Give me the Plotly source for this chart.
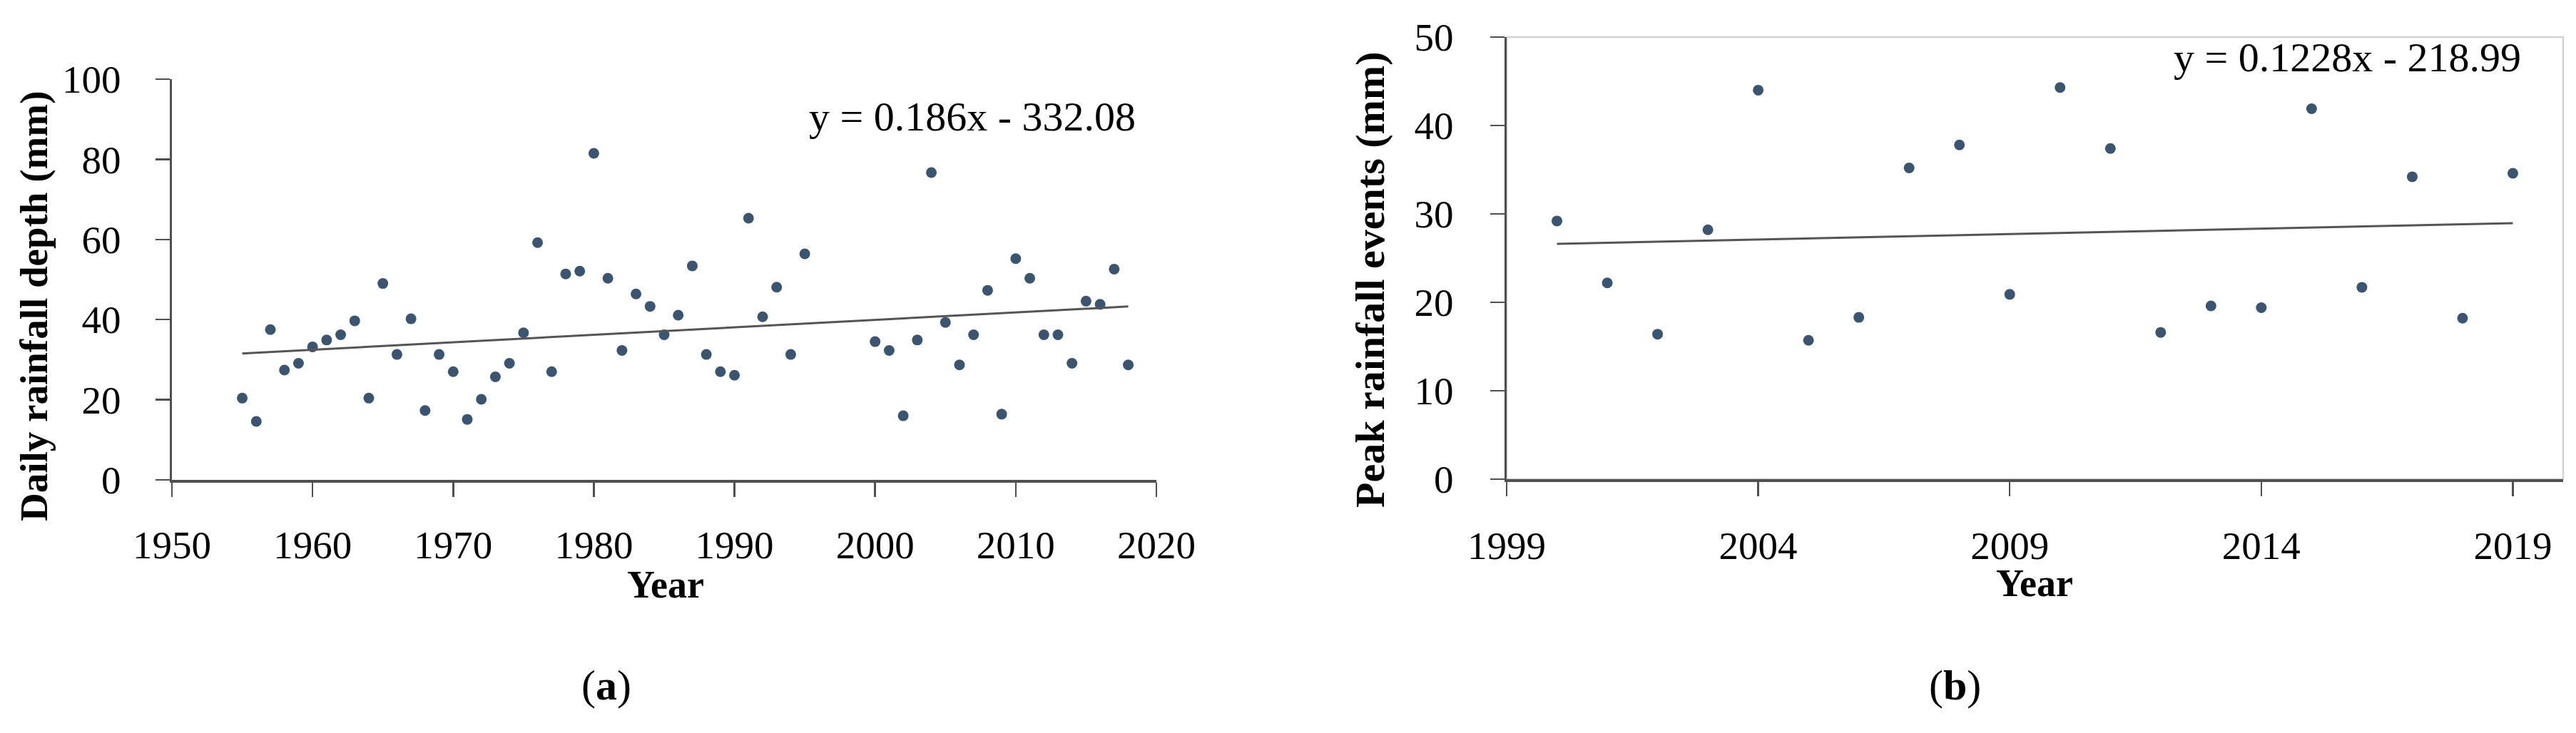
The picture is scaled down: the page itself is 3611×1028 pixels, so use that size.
import plotly.graph_objects as go

# ---------------- data ----------------
years_a = [1955, 1956, 1957, 1958, 1959, 1960, 1961, 1962, 1963, 1964,
           1965, 1966, 1967, 1968, 1969, 1970, 1971, 1972, 1973, 1974,
           1975, 1976, 1977, 1978, 1979, 1980, 1981, 1982, 1983, 1984,
           1985, 1986, 1987, 1988, 1989, 1990, 1991, 1992, 1993, 1994,
           1995, 2000, 2001, 2002, 2003, 2004, 2005, 2006, 2007, 2008,
           2009, 2010, 2011, 2012, 2013, 2014, 2015, 2016, 2017, 2018]
depth_a = [20.4, 14.6, 37.5, 27.4, 29.1, 33.2, 34.9, 36.2, 39.7, 20.4,
           49.0, 31.3, 40.2, 17.3, 31.3, 27.0, 15.1, 20.1, 25.7, 29.1,
           36.7, 59.2, 27.0, 51.4, 52.1, 81.5, 50.3, 32.3, 46.4, 43.3,
           36.2, 41.1, 53.4, 31.3, 27.0, 26.1, 65.3, 40.7, 48.1, 31.3,
           56.4, 34.5, 32.3, 16.0, 34.9, 76.7, 39.3, 28.7, 36.2, 47.3,
           16.4, 55.2, 50.3, 36.2, 36.2, 29.1, 44.6, 43.8, 52.6, 28.7]
slope_a, intercept_a = 0.186, -332.08
eq_a = "y = 0.186x - 332.08"

years_b = [2000, 2001, 2002, 2003, 2004, 2005, 2006, 2007, 2008, 2009,
           2010, 2011, 2012, 2013, 2014, 2015, 2016, 2017, 2018, 2019]
peak_b = [29.2, 22.2, 16.4, 28.2, 44.0, 15.7, 18.3, 35.2, 37.8, 20.9,
          44.3, 37.4, 16.6, 19.6, 19.4, 41.9, 21.7, 34.2, 18.2, 34.6]
slope_b, intercept_b = 0.1228, -218.99
eq_b = "y = 0.1228x - 218.99"

xticks_a = [1950, 1960, 1970, 1980, 1990, 2000, 2010, 2020]
yticks_a = [0, 20, 40, 60, 80, 100]
xticks_b = [1999, 2004, 2009, 2014, 2019]
yticks_b = [0, 10, 20, 30, 40, 50]

ytitle_a = "Daily rainfall depth (mm)"
ytitle_b = "Peak rainfall events (mm)"
xtitle = "Year"
label_a = "(<b>a</b>)"
label_b = "(<b>b</b>)"

# ---------------- style ----------------
W, H = 3611, 1028
FONT = "Liberation Serif, Times New Roman, serif"
DOT = "#3b5470"
AXC = "#505050"
TREND = "#555555"


def px(x):
    return x / W


def py(y):
    return 1 - y / H


fig = go.Figure()

# panel (a)
fig.add_trace(go.Scatter(x=years_a, y=depth_a, mode="markers",
                         marker=dict(size=15, color=DOT),
                         xaxis="x", yaxis="y", showlegend=False))
tx_a = [years_a[0], years_a[-1]]
fig.add_trace(go.Scatter(x=tx_a, y=[slope_a * v + intercept_a for v in tx_a],
                         mode="lines", line=dict(color=TREND, width=3),
                         xaxis="x", yaxis="y", showlegend=False))

# panel (b)
fig.add_trace(go.Scatter(x=years_b, y=peak_b, mode="markers",
                         marker=dict(size=15, color=DOT),
                         xaxis="x2", yaxis="y2", showlegend=False))
tx_b = [years_b[0], years_b[-1]]
fig.add_trace(go.Scatter(x=tx_b, y=[slope_b * v + intercept_b for v in tx_b],
                         mode="lines", line=dict(color=TREND, width=3),
                         xaxis="x2", yaxis="y2", showlegend=False))

tickfont = dict(family=FONT, size=55, color="black")
axis_common = dict(showgrid=False, zeroline=False, showline=True,
                   linecolor=AXC, linewidth=3.5, ticks="outside",
                   ticklen=20, tickwidth=2.5, tickcolor=AXC,
                   tickfont=tickfont,
                   automargin=False, fixedrange=True)
XSTAND = 20
YSTAND = 37

fig.update_layout(
    template="none",
    width=W, height=H,
    margin=dict(l=0, r=0, t=0, b=0, pad=0),
    paper_bgcolor="white", plot_bgcolor="white",
    showlegend=False,
    xaxis=dict(domain=[px(241), px(1621)], range=[1950, 2020],
               tickvals=xticks_a, anchor="y", ticklabelstandoff=XSTAND,
               **axis_common),
    yaxis=dict(domain=[py(673), py(111)], range=[0, 100],
               tickvals=yticks_a, anchor="x", ticklabelstandoff=YSTAND,
               **axis_common),
    xaxis2=dict(domain=[px(2112), px(3593)], range=[1999, 2020],
                tickvals=xticks_b, anchor="y2", ticklabelstandoff=XSTAND + 2,
                **axis_common),
    yaxis2=dict(domain=[py(672), py(52)], range=[0, 50],
                tickvals=yticks_b, anchor="x2", ticklabelstandoff=YSTAND + 3,
                **axis_common),
)

# light frame around panel (b)
fig.add_shape(type="rect", xref="x2 domain", yref="y2 domain",
              x0=0, x1=1, y0=0, y1=1, layer="below",
              line=dict(color="#d2d2d2", width=2.5))

ann = []
ann.append(dict(text=eq_a, x=px(1363), y=py(163), xref="paper", yref="paper",
                showarrow=False, font=dict(family=FONT, size=58, color="black"),
                xanchor="center", yanchor="middle"))
ann.append(dict(text=eq_b, x=px(3290), y=py(81), xref="paper", yref="paper",
                showarrow=False, font=dict(family=FONT, size=58, color="black"),
                xanchor="center", yanchor="middle"))
ann.append(dict(text="<b>" + xtitle + "</b>", x=px(933), y=py(820),
                xref="paper", yref="paper", showarrow=False,
                font=dict(family=FONT, size=54, color="black"),
                xanchor="center", yanchor="middle"))
ann.append(dict(text="<b>" + xtitle + "</b>", x=px(2852), y=py(818),
                xref="paper", yref="paper", showarrow=False,
                font=dict(family=FONT, size=54, color="black"),
                xanchor="center", yanchor="middle"))
ann.append(dict(text="<b>" + ytitle_a + "</b>", x=px(47), y=py(430),
                xref="paper", yref="paper", showarrow=False, textangle=-90,
                font=dict(family=FONT, size=55, color="black"),
                xanchor="center", yanchor="middle"))
ann.append(dict(text="<b>" + ytitle_b + "</b>", x=px(1920), y=py(393),
                xref="paper", yref="paper", showarrow=False, textangle=-90,
                font=dict(family=FONT, size=58, color="black"),
                xanchor="center", yanchor="middle"))
ann.append(dict(text=label_a, x=px(850), y=py(961), xref="paper", yref="paper",
                showarrow=False, font=dict(family=FONT, size=60, color="black"),
                xanchor="center", yanchor="middle"))
ann.append(dict(text=label_b, x=px(2740), y=py(961), xref="paper", yref="paper",
                showarrow=False, font=dict(family=FONT, size=60, color="black"),
                xanchor="center", yanchor="middle"))
fig.update_layout(annotations=ann)

fig.write_html("out.html",
               config={"displayModeBar": False, "staticPlot": True},
               post_script="document.body.style.margin='0px';"
                           "document.body.style.overflow='hidden';")
